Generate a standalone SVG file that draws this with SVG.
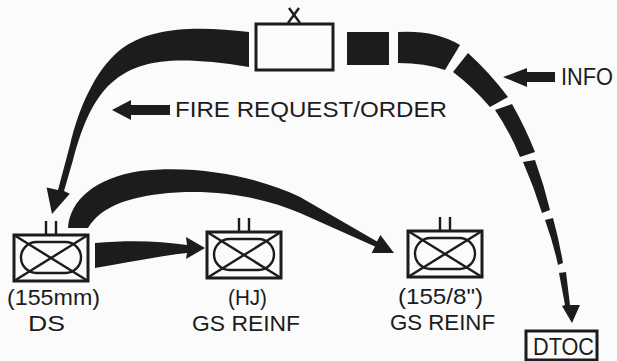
<svg xmlns="http://www.w3.org/2000/svg" xmlns:xlink="http://www.w3.org/1999/xlink" width="617" height="361" viewBox="0 0 617 361">
  <style>
    .ink { fill: #1c1c1c; }
    .box { fill: none; stroke: #1c1c1c; stroke-width: 3; }
    .thin { fill: none; stroke: #1c1c1c; stroke-width: 2.4; }
    .lbl { font-family: "Liberation Sans Narrow", "Liberation Sans", Arial, sans-serif; fill: #1c1c1c; text-anchor: start; }
  </style>
  <defs>
    <g id="unit">
      <line class="thin" x1="32" y1="-14" x2="32" y2="0"/>
      <line class="thin" x1="42" y1="-14" x2="42" y2="0"/>
      <rect class="box" x="0" y="0" width="74" height="46" stroke-width="3.4"/>
      <rect class="thin" x="7" y="7" width="60" height="31" rx="15.5" ry="15.5"/>
      <line class="thin" x1="0" y1="0" x2="74" y2="46"/>
      <line class="thin" x1="74" y1="0" x2="0" y2="46"/>
    </g>
  </defs>
  <rect width="617" height="361" fill="#fbfbfb"/>

  <g id="connectors">
    <!-- HQ to DS: fire request/order -->
    <path class="ink" d="M249,32 C200,26 150,26 120,50 C95,70 78,110 70,145 L58,190 L46.6,187.6 L52,214 L69.8,193.8 L64,191 L73,160 C82,125 95,95 115,80 C140,60 175,55 249,67 Z"/>
    <!-- HQ to DTOC: info, dashed -->
    <g id="info-dashes" class="ink">
      <path d="M347,32 L389,32 L389,65 L347,65 Z"/>
      <path d="M398,32 Q435,30 460,45 L445,70 Q425,63 398,63 Z"/>
      <path d="M468,53 Q490,73 508,97 L490,107 Q473,87 453,72 Z"/>
      <path d="M495,110 L512,104 Q525,127 535,152 L520,157 Q510,132 495,110 Z"/>
      <path d="M523,162 L535,160 Q544,185 550,210 L542,213 Q534,187 523,162 Z"/>
      <path d="M545,220 L553,218 Q559,240 563,263 L558,265 Q553,242 545,220 Z"/>
      <path d="M559,273 L566,272 L570,305 L580,305 L572,323 L562,306 L565,305 Z"/>
    </g>
    <!-- DS to HJ -->
    <path class="ink" d="M95,243 C130,240 160,241 187,245 L186,237 L205,248 L186,259 L187,253 C160,256 130,262 95,268 Z"/>
    <!-- DS to 155/8 -->
    <path class="ink" d="M68,228 C70,200 95,178 140,171 C200,164 260,178 300,197 L377,241.5 L380.4,235 L394,253 L371.6,253 L375,246.5 L300,213 C260,196 210,188 160,194 C125,198 100,208 88,228 Z"/>
    <!-- label arrows -->
    <path class="ink" d="M112,110 L131,100 L131,105 L170,105 L170,115 L131,115 L131,120 Z"/>
    <path class="ink" d="M503,77 L527,68 L527,72 L555,72 L555,82 L527,82 L527,87 Z"/>
  </g>

  <g id="hq">
    <rect class="box" x="256" y="24" width="77" height="46"/>
    <line class="thin" x1="289" y1="8" x2="300" y2="23"/>
    <line class="thin" x1="299" y1="8" x2="288" y2="23"/>
  </g>

  <g id="ds">
    <use xlink:href="#unit" x="14" y="235"/>
    <text class="lbl" x="7" y="305" font-size="22" textLength="93" lengthAdjust="spacingAndGlyphs">(155mm)</text>
    <text class="lbl" x="28" y="331" font-size="22" textLength="37" lengthAdjust="spacingAndGlyphs">DS</text>
  </g>

  <g id="hj">
    <use xlink:href="#unit" x="207" y="232"/>
    <text class="lbl" x="228" y="305" font-size="22" textLength="39" lengthAdjust="spacingAndGlyphs">(HJ)</text>
    <text class="lbl" x="192" y="331" font-size="22" textLength="108" lengthAdjust="spacingAndGlyphs">GS REINF</text>
  </g>

  <g id="gs155">
    <use xlink:href="#unit" x="408" y="231"/>
    <text class="lbl" x="398" y="304" font-size="22" textLength="85" lengthAdjust="spacingAndGlyphs">(155/8")</text>
    <text class="lbl" x="390" y="330" font-size="22" textLength="105" lengthAdjust="spacingAndGlyphs">GS REINF</text>
  </g>

  <g id="dtoc">
    <rect class="box" x="526" y="331" width="71" height="29"/>
    <text class="lbl" x="533" y="355" font-size="24" textLength="61" lengthAdjust="spacingAndGlyphs">DTOC</text>
  </g>

  <g id="labels">
    <text class="lbl" x="175" y="117" font-size="22" textLength="272" lengthAdjust="spacingAndGlyphs">FIRE REQUEST/ORDER</text>
    <text class="lbl" x="561" y="85" font-size="24" textLength="52" lengthAdjust="spacingAndGlyphs">INFO</text>
  </g>
</svg>
